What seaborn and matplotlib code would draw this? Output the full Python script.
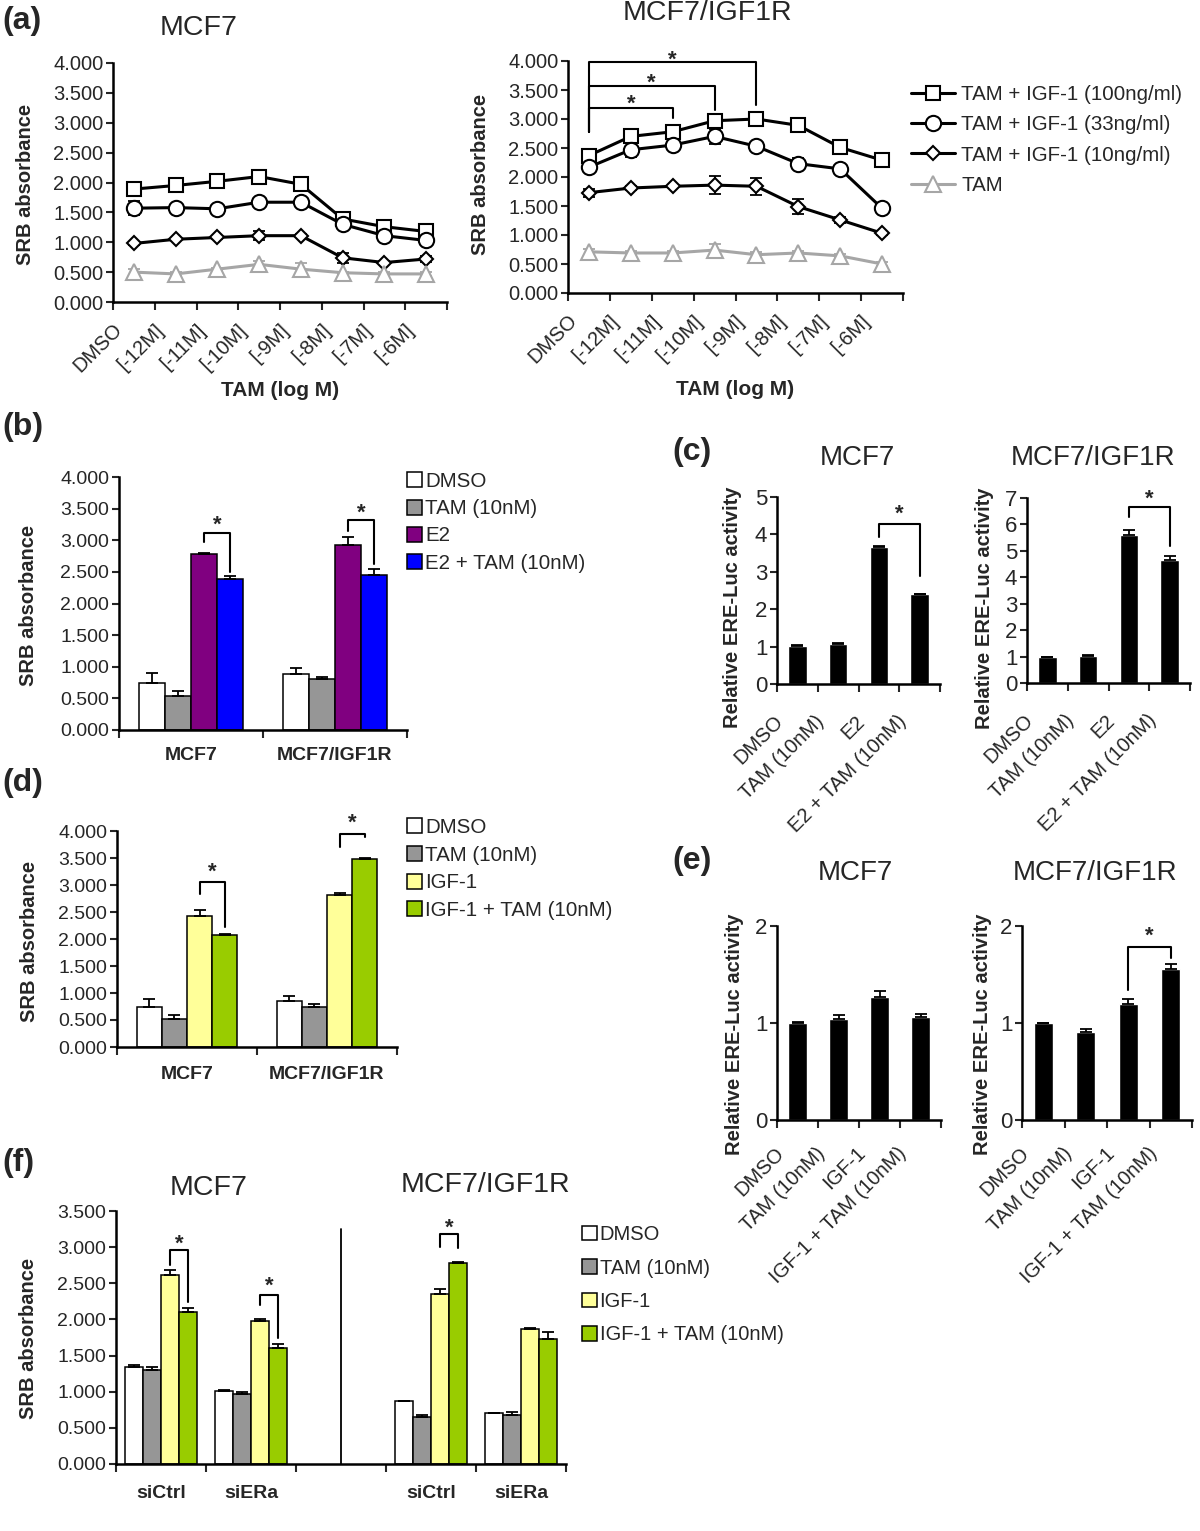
import numpy as np
import pandas as pd
import matplotlib
matplotlib.use("Agg")
import matplotlib.pyplot as plt
import seaborn as sns
from matplotlib.lines import Line2D
from matplotlib.patches import Patch
from matplotlib.ticker import FormatStrFormatter
from matplotlib.transforms import ScaledTranslation

# --- DATA ---
conc = ['DMSO', '[-12M]', '[-11M]', '[-10M]', '[-9M]', '[-8M]', '[-7M]', '[-6M]']
line_names = ['TAM + IGF-1 (100ng/ml)', 'TAM + IGF-1 (33ng/ml)', 'TAM + IGF-1 (10ng/ml)', 'TAM']

a_mcf7_100 = [1.89, 1.95, 2.02, 2.10, 1.97, 1.39, 1.26, 1.18]
a_mcf7_100_err = [0.05, 0.04, 0.08, 0.03, 0.05, 0.05, 0.08, 0.05]
a_mcf7_33 = [1.57, 1.58, 1.56, 1.67, 1.67, 1.30, 1.11, 1.03]
a_mcf7_33_err = [0.12, 0.06, 0.05, 0.03, 0.08, 0.07, 0.03, 0.03]
a_mcf7_10 = [0.98, 1.05, 1.08, 1.11, 1.11, 0.74, 0.66, 0.72]
a_mcf7_10_err = [0.02, 0.02, 0.02, 0.07, 0.03, 0.08, 0.03, 0.05]
a_mcf7_tam = [0.50, 0.47, 0.55, 0.63, 0.55, 0.49, 0.47, 0.47]
a_mcf7_tam_err = [0.05, 0.03, 0.02, 0.06, 0.10, 0.02, 0.03, 0.03]

a_igf1r_100 = [2.37, 2.70, 2.78, 2.97, 3.00, 2.89, 2.51, 2.29]
a_igf1r_100_err = [0.08, 0.05, 0.08, 0.06, 0.03, 0.03, 0.03, 0.08]
a_igf1r_33 = [2.17, 2.47, 2.55, 2.70, 2.53, 2.23, 2.14, 1.46]
a_igf1r_33_err = [0.04, 0.12, 0.03, 0.13, 0.03, 0.10, 0.03, 0.07]
a_igf1r_10 = [1.73, 1.81, 1.84, 1.86, 1.84, 1.49, 1.26, 1.03]
a_igf1r_10_err = [0.07, 0.03, 0.02, 0.15, 0.15, 0.13, 0.05, 0.03]
a_igf1r_tam = [0.71, 0.69, 0.69, 0.74, 0.66, 0.69, 0.64, 0.50]
a_igf1r_tam_err = [0.05, 0.03, 0.03, 0.10, 0.05, 0.03, 0.03, 0.03]

cells = ['MCF7', 'MCF7/IGF1R']
b_names = ['DMSO', 'TAM (10nM)', 'E2', 'E2 + TAM (10nM)']
b_dmso = [0.75, 0.89]
b_dmso_err = [0.15, 0.095]
b_tam = [0.54, 0.80]
b_tam_err = [0.07, 0.04]
b_e2 = [2.78, 2.93]
b_e2_err = [0.02, 0.12]
b_e2tam = [2.38, 2.45]
b_e2tam_err = [0.05, 0.095]

c_cats = ['DMSO', 'TAM (10nM)', 'E2', 'E2 + TAM (10nM)']
c_mcf7 = [1.01, 1.06, 3.65, 2.40]
c_mcf7_err = [0.03, 0.03, 0.03, 0.0]
c_igf1r = [1.00, 1.03, 5.61, 4.64]
c_igf1r_err = [0.0, 0.03, 0.17, 0.17]

d_names = ['DMSO', 'TAM (10nM)', 'IGF-1', 'IGF-1 + TAM (10nM)']
d_dmso = [0.74, 0.86]
d_dmso_err = [0.14, 0.08]
d_tam = [0.51, 0.74]
d_tam_err = [0.09, 0.06]
d_igf = [2.42, 2.81]
d_igf_err = [0.11, 0.05]
d_igftam = [2.07, 3.48]
d_igftam_err = [0.02, 0.02]

e_cats = ['DMSO', 'TAM (10nM)', 'IGF-1', 'IGF-1 + TAM (10nM)']
e_mcf7 = [1.00, 1.04, 1.27, 1.06]
e_mcf7_err = [0.01, 0.045, 0.06, 0.03]
e_igf1r = [1.00, 0.91, 1.20, 1.56]
e_igf1r_err = [0.0, 0.03, 0.045, 0.045]

f_keys = ['MCF7 siCtrl', 'MCF7 siERa', 'gap', 'MCF7/IGF1R siCtrl', 'MCF7/IGF1R siERa']
f_labels = ['siCtrl', 'siERa', '', 'siCtrl', 'siERa']
f_dmso = [1.34, 1.01, 0.875, 0.70]
f_dmso_err = [0.03, 0.02, 0.0, 0.0]
f_tam = [1.30, 0.97, 0.655, 0.68]
f_tam_err = [0.04, 0.02, 0.02, 0.04]
f_igf = [2.61, 1.98, 2.35, 1.865]
f_igf_err = [0.07, 0.02, 0.07, 0.02]
f_igftam = [2.105, 1.60, 2.78, 1.73]
f_igftam_err = [0.05, 0.065, 0.02, 0.10]

e2_colors = ['#FFFFFF', '#969696', '#800080', '#0000FF']
igf_colors = ['#FFFFFF', '#969696', '#FFFF99', '#99CC00']

# --- FIGURE SETUP ---
sns.set_style("ticks")
plt.rcParams['font.family'] = ['Liberation Sans', 'DejaVu Sans']

W, H = 1200, 1531
fig = plt.figure(figsize=(W / 100, H / 100), dpi=100)


def px_axes(x0, y0, x1, y1):
    return fig.add_axes([x0 / W, 1 - y1 / H, (x1 - x0) / W, (y1 - y0) / H])


def style_axes(ax, ysize):
    sns.despine(ax=ax)
    for s in ('left', 'bottom'):
        ax.spines[s].set_linewidth(1.8)
        ax.spines[s].set_color('black')
    ax.tick_params(axis='y', direction='out', length=5, width=1.5, labelsize=ysize, pad=2)
    ax.tick_params(axis='x', which='major', length=0)
    ax.tick_params(axis='x', which='minor', direction='out', length=6, width=1.5)
    ax.grid(False)


def label_at(ax, axis, text, px, py, size):
    # axis title centred on a pixel position of the figure
    bb = ax.get_position()
    ax_x = (px / W - bb.x0) / bb.width
    ax_y = ((1 - py / H) - bb.y0) / bb.height
    if axis == 'y':
        ax.set_ylabel(text, fontsize=size, fontweight='bold', va='center')
        ax.yaxis.set_label_coords(ax_x, ax_y)
    else:
        ax.set_xlabel(text, fontsize=size, fontweight='bold', va='center')
        ax.xaxis.set_label_coords(ax_x, ax_y)


def bracket(ax, x1, x2, top, y1, y2, star_y, size=16):
    ax.plot([x1, x1, x2, x2], [y1, top, top, y2], color='black', lw=1.5, clip_on=False)
    tr = ax.transData + ScaledTranslation(0, -6 / 100, fig.dpi_scale_trans)
    ax.text((x1 + x2) / 2, star_y, '*', ha='center', va='center', fontsize=size,
            fontweight='bold', transform=tr, clip_on=False)


def bar_errors(ax, errs):
    for cont, e in zip(list(ax.containers), errs):
        xs = [b.get_x() + b.get_width() / 2 for b in cont]
        hs = [b.get_height() for b in cont]
        ax.errorbar(xs, hs, yerr=[np.zeros(len(e)), e], fmt='none', ecolor='black',
                    elinewidth=1.3, capsize=4, capthick=1.3, zorder=3)


def group_bars(ax, keys, names, vals, colors, width):
    real = [k for k in keys if k != 'gap']
    rows = [(k, n, v) for n, vs in zip(names, vals) for k, v in zip(real, vs)]
    df = pd.DataFrame(rows, columns=['cat', 'treat', 'val'])
    sns.barplot(data=df, x='cat', y='val', hue='treat', order=keys, hue_order=names,
                palette=colors, width=width, saturation=1, edgecolor='black', linewidth=1.1,
                errorbar=None, legend=False, ax=ax)


def bar_legend(names, colors, x, y, size, spacing):
    handles = [Patch(facecolor=c, edgecolor='black', linewidth=1.1) for c in colors]
    fig.legend(handles, names, loc='upper left', bbox_to_anchor=(x / W, 1 - y / H),
               frameon=False, fontsize=size, handlelength=0.75, handleheight=0.75,
               handletextpad=0.12, labelspacing=spacing, borderpad=0, borderaxespad=0)


def shift_labels(ax, dx):
    for lbl in ax.get_xticklabels():
        lbl.set_transform(lbl.get_transform() + ScaledTranslation(dx / 100, 0, fig.dpi_scale_trans))


# --- (a) LINE PANELS ---
line_styles = [('s', 'black', 10.5), ('o', 'black', 11), ('D', 'black', 7.5), ('^', '#A6A6A6', 11.5)]


def line_panel(ax, series, errs):
    for vals, err, (marker, color, ms) in zip(series, errs, line_styles):
        d = pd.DataFrame({'pos': np.arange(len(conc)), 'val': vals})
        ax.errorbar(d['pos'], d['val'], yerr=err, fmt='none', ecolor=color,
                    elinewidth=1.3, capsize=4.5, capthick=1.3, zorder=2)
        sns.lineplot(data=d, x='pos', y='val', color=color, lw=2.2, marker=marker, ms=ms,
                     mfc='white', mec=color, mew=1.5, ax=ax, zorder=3)
    style_axes(ax, 14.5)
    ax.set_ylim(0, 4)
    ax.set_yticks(np.arange(0, 4.01, 0.5))
    ax.yaxis.set_major_formatter(FormatStrFormatter('%.3f'))
    ax.set_xlim(-0.5, len(conc) - 0.5)
    ax.set_xticks(range(len(conc)))
    ax.set_xticklabels(conc, rotation=45, ha='right', fontsize=14.5)
    ax.set_xticks(np.arange(-0.5, len(conc), 1), minor=True)
    ax.tick_params(axis='x', which='major', pad=13)
    shift_labels(ax, -8)


ax_a1 = px_axes(113, 63, 447, 302)
line_panel(ax_a1, [a_mcf7_100, a_mcf7_33, a_mcf7_10, a_mcf7_tam],
           [a_mcf7_100_err, a_mcf7_33_err, a_mcf7_10_err, a_mcf7_tam_err])
label_at(ax_a1, 'y', 'SRB absorbance', 26, 184, 14.5)
label_at(ax_a1, 'x', 'TAM (log M)', 280, 390, 15)

ax_a2 = px_axes(568, 61, 903, 293)
line_panel(ax_a2, [a_igf1r_100, a_igf1r_33, a_igf1r_10, a_igf1r_tam],
           [a_igf1r_100_err, a_igf1r_33_err, a_igf1r_10_err, a_igf1r_tam_err])
label_at(ax_a2, 'y', 'SRB absorbance', 481, 174, 14.5)
label_at(ax_a2, 'x', 'TAM (log M)', 735, 390, 15)
bracket(ax_a2, 0, 2, 3.19, 2.78, 3.01, 3.35)
bracket(ax_a2, 0, 3, 3.57, 2.78, 3.16, 3.72)
bracket(ax_a2, 0, 4, 3.99, 2.78, 3.25, 4.11)

line_handles = [Line2D([], [], color=c, lw=2.2, marker=m, ms=ms, mfc='white', mec=c, mew=1.5)
                for m, c, ms in line_styles]
fig.legend(line_handles, line_names, loc='upper left', bbox_to_anchor=(911 / W, 1 - 85 / H),
           frameon=False, fontsize=14.8, handlelength=2.15, handletextpad=0.3,
           labelspacing=0.55, borderpad=0, borderaxespad=0)

fig.text(199 / W, 1 - 28 / H, 'MCF7', ha='center', va='center', fontsize=20.5)
fig.text(707 / W, 1 - 13 / H, 'MCF7/IGF1R', ha='center', va='center', fontsize=20.5)


# --- (b) and (d) GROUPED BARS ---
def cell_bar_panel(ax, names, vals, errs, colors, pad):
    group_bars(ax, cells, names, vals, colors, 0.72)
    bar_errors(ax, errs)
    style_axes(ax, 14)
    ax.set_ylim(0, 4)
    ax.set_yticks(np.arange(0, 4.01, 0.5))
    ax.yaxis.set_major_formatter(FormatStrFormatter('%.3f'))
    ax.set_xlim(-0.5, 1.5)
    ax.set_xticks([0, 1])
    ax.set_xticklabels(cells, fontsize=14, fontweight='bold')
    ax.set_xticks([-0.5, 0.5, 1.5], minor=True)
    ax.tick_params(axis='x', which='major', pad=pad)
    ax.set_xlabel('')


def bar_x(i, j, width=0.72, n=4):
    return i + (j - (n - 1) / 2) * width / n


ax_b = px_axes(119, 477, 407, 730)
cell_bar_panel(ax_b, b_names, [b_dmso, b_tam, b_e2, b_e2tam],
               [b_dmso_err, b_tam_err, b_e2_err, b_e2tam_err], e2_colors, 12.5)
label_at(ax_b, 'y', 'SRB absorbance', 29, 605, 14.5)
bracket(ax_b, bar_x(0, 2), bar_x(0, 3), 3.12, 2.97, 2.50, 3.34)
bracket(ax_b, bar_x(1, 2), bar_x(1, 3), 3.32, 3.15, 2.63, 3.53)
bar_legend(b_names, e2_colors, 407, 472, 14.8, 0.4)

ax_d = px_axes(117, 831, 397, 1047)
cell_bar_panel(ax_d, d_names, [d_dmso, d_tam, d_igf, d_igftam],
               [d_dmso_err, d_tam_err, d_igf_err, d_igftam_err], igf_colors, 14)
label_at(ax_d, 'y', 'SRB absorbance', 30, 941, 14.5)
bracket(ax_d, bar_x(0, 2), bar_x(0, 3), 3.06, 2.84, 2.22, 3.35)
bracket(ax_d, bar_x(1, 2), bar_x(1, 3), 3.95, 3.70, 3.88, 4.25)
bar_legend(d_names, igf_colors, 407, 818, 14.8, 0.42)


# --- (c) and (e) LUCIFERASE BARS ---
def luc_panel(ax, cats, vals, errs, ymax, pad):
    sns.barplot(x=cats, y=vals, order=cats, color='black', width=0.45, saturation=1,
                errorbar=None, ax=ax)
    bar_errors(ax, [errs])
    style_axes(ax, 16)
    ax.set_ylim(0, ymax)
    ax.set_yticks(range(0, ymax + 1))
    ax.set_xlim(-0.5, len(cats) - 0.5)
    ax.set_xticks(range(len(cats)))
    ax.set_xticklabels(cats, rotation=45, ha='right', fontsize=14.5)
    ax.set_xticks(np.arange(-0.5, len(cats), 1), minor=True)
    ax.tick_params(axis='x', which='major', pad=pad)
    shift_labels(ax, -10)


ax_c1 = px_axes(777, 497, 940, 684)
luc_panel(ax_c1, c_cats, c_mcf7, c_mcf7_err, 5, 20)
label_at(ax_c1, 'y', 'Relative ERE-Luc activity', 732, 607, 14.5)
bracket(ax_c1, 2, 3, 4.27, 3.93, 2.89, 4.69)

ax_c2 = px_axes(1027, 498, 1190, 683)
luc_panel(ax_c2, c_cats, c_igf1r, c_igf1r_err, 7, 20)
label_at(ax_c2, 'y', 'Relative ERE-Luc activity', 985, 608, 14.5)
bracket(ax_c2, 2, 3, 6.65, 6.27, 5.20, 7.19)

fig.text(857 / W, 1 - 458 / H, 'MCF7', ha='center', va='center', fontsize=20)
fig.text(1093 / W, 1 - 458 / H, 'MCF7/IGF1R', ha='center', va='center', fontsize=20)

ax_e1 = px_axes(777, 926, 941, 1120)
luc_panel(ax_e1, e_cats, e_mcf7, e_mcf7_err, 2, 17)
label_at(ax_e1, 'y', 'Relative ERE-Luc activity', 734, 1034, 14.5)

ax_e2 = px_axes(1022, 926, 1192, 1120)
luc_panel(ax_e2, e_cats, e_igf1r, e_igf1r_err, 2, 17)
label_at(ax_e2, 'y', 'Relative ERE-Luc activity', 983, 1034, 14.5)
bracket(ax_e2, 2, 3, 1.78, 1.34, 1.667, 1.96)

fig.text(855 / W, 1 - 873 / H, 'MCF7', ha='center', va='center', fontsize=20)
fig.text(1095 / W, 1 - 873 / H, 'MCF7/IGF1R', ha='center', va='center', fontsize=20)


# --- (f) siRNA BARS ---
ax_f = px_axes(116, 1211, 566, 1464)
group_bars(ax_f, f_keys, d_names, [f_dmso, f_tam, f_igf, f_igftam], igf_colors, 0.8)
bar_errors(ax_f, [f_dmso_err, f_tam_err, f_igf_err, f_igftam_err])
style_axes(ax_f, 14)
ax_f.set_ylim(0, 3.5)
ax_f.set_yticks(np.arange(0, 3.51, 0.5))
ax_f.yaxis.set_major_formatter(FormatStrFormatter('%.3f'))
ax_f.set_xlim(-0.5, 4.5)
ax_f.set_xticks(range(5))
ax_f.set_xticklabels(f_labels, fontsize=14, fontweight='bold')
ax_f.set_xticks(np.arange(-0.5, 5, 1), minor=True)
ax_f.tick_params(axis='x', which='major', pad=15)
ax_f.set_xlabel('')
label_at(ax_f, 'y', 'SRB absorbance', 29, 1338, 14.5)
ax_f.plot([2, 2], [0, 3.25], color='black', lw=1.3)
bracket(ax_f, bar_x(0, 2, 0.8), bar_x(0, 3, 0.8), 2.957, 2.75, 2.24, 3.13)
bracket(ax_f, bar_x(1, 2, 0.8), bar_x(1, 3, 0.8), 2.335, 2.20, 1.74, 2.54)
bracket(ax_f, bar_x(3, 2, 0.8), bar_x(3, 3, 0.8), 3.18, 3.00, 2.99, 3.35)
bar_legend(d_names, igf_colors, 582, 1225, 14.5, 0.72)

fig.text(209 / W, 1 - 1188 / H, 'MCF7', ha='center', va='center', fontsize=20.5)
fig.text(485 / W, 1 - 1185 / H, 'MCF7/IGF1R', ha='center', va='center', fontsize=20.5)

# --- PANEL LETTERS ---
for letter, x, y in [('(a)', 2, 21), ('(b)', 2, 427), ('(c)', 672, 452),
                     ('(d)', 2, 783), ('(e)', 672, 861), ('(f)', 2, 1163)]:
    fig.text(x / W, 1 - y / H, letter, ha='left', va='center', fontsize=23, fontweight='bold')

fig.savefig("out.png", dpi=100)
